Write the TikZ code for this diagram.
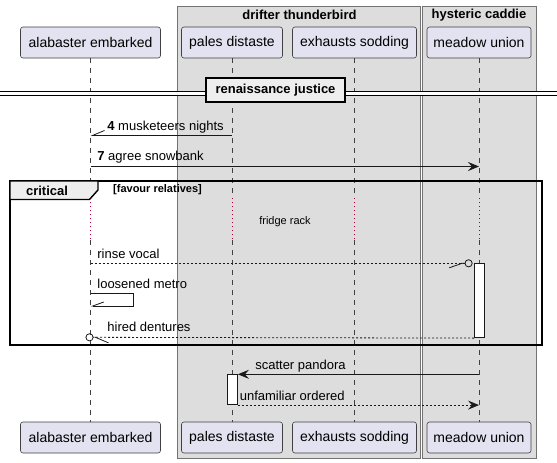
\documentclass[tikz,border=0pt]{standalone}
\usepackage{fontspec}
\setmainfont{Liberation Sans}
\usetikzlibrary{arrows.meta, positioning}

\definecolor{partfill}{HTML}{E2E2F0}
\definecolor{boxfill}{HTML}{DDDDDD}
\definecolor{tabfill}{HTML}{EEEEEE}
\definecolor{delayred}{HTML}{A80036}

\tikzset{
  actor/.style={draw=black!75, line width=0.6pt, fill=partfill, rounded corners=2.5pt,
    minimum height=31pt, inner sep=0pt, font=\fontsize{14}{16}\selectfont},
  grp/.style={draw=black!55, line width=0.8pt, fill=boxfill},
  grptitle/.style={inner sep=0pt, font=\fontsize{13}{15}\selectfont\bfseries},
  lifeline/.style={draw=black!75, line width=0.6pt, dash pattern=on 5pt off 5pt},
  delay/.style={draw=delayred, line width=0.8pt, dash pattern=on 1pt off 3pt},
  msg/.style={draw=black!90, line width=0.8pt},
  reply/.style={msg, dash pattern=on 2pt off 2pt},
  lbl/.style={inner sep=0pt, anchor=base west, font=\fontsize{13}{15}\selectfont},
  actbar/.style={draw=black!90, line width=0.8pt, fill=white, minimum width=10pt, inner sep=0pt},
  frame/.style={draw=black, line width=1.4pt},
  fullhead/.style={-{Stealth[length=11pt, width=9pt, inset=4pt]}}
}

\begin{document}
\begin{tikzpicture}[x=1pt, y=-1pt, on grid]
\useasboundingbox (0,0) rectangle (557,463);

% boxes
\draw[grp] (177.5,6) rectangle (420.5,458);
\node[grptitle] at (299.5,15) {drifter thunderbird};
\draw[grp] (422.5,6) rectangle (536,458);
\node[grptitle] at (479,15) {hysteric caddie};

% participants
\node[actor, minimum width=140pt] (ae) at (90.5,42.5) {alabaster embarked};
\node[actor, minimum width=101pt, right=141.5pt of ae] (pd) {pales distaste};
\node[actor, minimum width=124pt, right=122.5pt of pd] (es) {exhausts sodding};
\node[actor, minimum width=104pt, right=124.5pt of es] (mu) {meadow union};
\node[actor, minimum width=140pt, below=395pt of ae] (ae_bot) {alabaster embarked};
\node[actor, minimum width=101pt, below=395pt of pd] (pd_bot) {pales distaste};
\node[actor, minimum width=124pt, below=395pt of es] (es_bot) {exhausts sodding};
\node[actor, minimum width=104pt, below=395pt of mu] (mu_bot) {meadow union};

\foreach \p in {ae,pd,es,mu} {
  \draw[lifeline] (\p) -- (\p |- 0,198);
  \draw[delay] (\p |- 0,198) -- (\p |- 0,240);
  \draw[lifeline] (\p |- 0,240) -- (\p_bot);
}

% separator
\draw[line width=0.8pt, double, double distance=2.5pt] (0,93.5) -- (557,93.5);
\node[frame, fill=tabfill, line width=1.5pt, minimum width=139pt, minimum height=24pt, inner sep=0pt,
  font=\fontsize{13}{15}\selectfont\bfseries] (rj) at (275.5,90) {renaissance justice};

% messages
\draw[msg, -{Straight Barb[right, length=12pt, width=10pt]}] (pd |- 0,135.5) --
  node[lbl, pos=1, xshift=16.5pt, yshift=5.5pt] {\textbf{4} musketeers nights} (ae |- 0,135.5);
\draw[msg, fullhead] (ae |- 0,166.5) --
  node[lbl, pos=0, xshift=6.5pt, yshift=6pt] {\textbf{7} agree snowbank} (mu |- 0,166.5);

% critical
\draw[frame] (10,181) rectangle (542,345);
\draw[frame, fill=tabfill] (10,181) -- (98,181) -- (98,190) -- (89.5,199.5) -- (10,199.5) -- cycle;
\node[grptitle] (crit) at (47,191) {critical};
\node[inner sep=0pt, anchor=west, font=\fontsize{11}{13}\selectfont\bfseries] (guard) at (113,190) {[favour relatives]};
\node[inner sep=0pt, font=\fontsize{11}{13}\selectfont] (rack) at (285,221.5) {fridge rack};

\node[actbar, minimum height=74pt, anchor=north] (mu_act) at ([xshift=0.5pt]mu |- 0,263.3) {};
\draw[reply, -{Straight Barb[right, length=13pt, width=9pt] Circle[open, length=8pt, line width=0.8pt]}]
  (ae |- 0,263.3) -- node[lbl, pos=0, xshift=6.5pt, yshift=5pt] {rinse vocal} ([xshift=-1.5pt]mu_act.north west);
\draw[msg, -{Straight Barb[right, length=11pt, width=8pt]}] (ae |- 0,293.5) --
  node[lbl, pos=0, xshift=6.5pt, yshift=5.5pt] {loosened metro} (133,293.5) -- (133,306) -- (ae |- 0,306);
\draw[reply, -{Straight Barb[left, length=13pt, width=11pt] Circle[open, length=8pt, line width=0.8pt]}]
  (mu_act.south west) -- node[lbl, pos=1, xshift=21.5pt, yshift=6pt] {hired dentures} ([xshift=-5pt]ae |- 0,337.3);

% after the critical block
\node[actbar, minimum height=30pt, anchor=north] (pd_act) at ([xshift=0.5pt]pd |- 0,374.3) {};
\draw[msg, fullhead] (mu |- pd_act.north) --
  node[lbl, pos=1, xshift=17pt, yshift=5pt] {scatter pandora} (pd_act.north east);
\draw[reply, fullhead] (pd_act.south east) --
  node[lbl, pos=0, xshift=1.5pt, yshift=5pt] {unfamiliar ordered} (mu |- pd_act.south);
\end{tikzpicture}
\end{document}
